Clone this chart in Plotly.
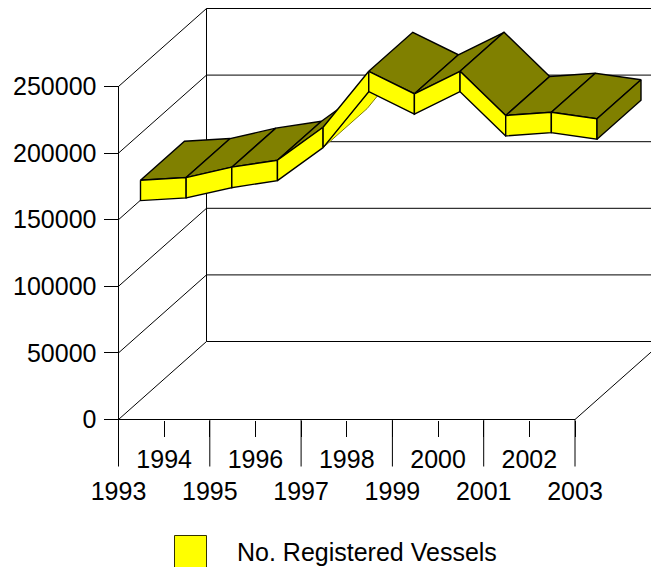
import plotly.graph_objects as go

# ---- data ----
years = [1993, 1994, 1995, 1996, 1997, 1998, 1999, 2000, 2001, 2002, 2003]
vessels = [165000, 167000, 174800, 180000, 204800, 246800, 229900, 246800, 213600, 216000, 211100]
y_ticks = [0, 50000, 100000, 150000, 200000, 250000]
series_name = "No. Registered Vessels"

# ---- oblique projection of the pseudo-3D box (axis units) ----
W, H = 651, 567
X0, Y0 = 118.5, 419.5       # pixel of first category at value 0
PX_CAT = 45.65              # pixels per category
PX_VAL = 66.6 / 50000       # pixels per unit of value
DX = 88 / PX_CAT            # full depth in category units
DY = 78 / PX_VAL            # full depth in value units
THICK = 20.4 / PX_VAL       # ribbon thickness
Z_FRONT, Z_BACK = 0.25, 0.75
N = len(years)
INK = "#000000"
FS = 25
FONT = "Liberation Sans"
RIBBON_W = 1.4


def proj(i, v, z=0.0):
    return i + z * DX, v + z * DY


def face(points, fill, line=INK, width=RIBBON_W):
    xs, ys = zip(*[proj(*p) for p in points + points[:1]])
    return go.Scatter(x=list(xs), y=list(ys), mode="lines", fill="toself", fillcolor=fill,
                      line=dict(color=line, width=width), hoverinfo="skip", showlegend=False)


def seg(p, q, width=1.0, color=INK):
    xs, ys = zip(*[proj(*a) for a in (p, q)])
    return go.Scatter(x=list(xs), y=list(ys), mode="lines", line=dict(color=color, width=width),
                      hoverinfo="skip", showlegend=False)


fig = go.Figure()

# walls
for v in y_ticks:
    fig.add_trace(seg((0, v, 0), (0, v, 1)))
    fig.add_trace(seg((0, v, 1), (N - 1, v, 1)))
fig.add_trace(seg((0, y_ticks[0], 1), (0, y_ticks[-1], 1)))
fig.add_trace(seg((0, 0), (N - 1, 0)))
fig.add_trace(seg((N - 1, 0, 0), (N - 1, 0, 1)))
# vertical axis and long category ticks
LONG_TICK = -47 / PX_VAL
fig.add_trace(seg((0, y_ticks[-1]), (0, LONG_TICK)))
for i in range(2, N, 2):
    fig.add_trace(seg((i, 0), (i, LONG_TICK)))

# ribbon, painted left to right
YELLOW, OLIVE = "#ffff00", "#808000"
for i in range(N - 1):
    a, b = vessels[i], vessels[i + 1]
    steep = (b - a) * PX_VAL / PX_CAT > 78 / 88
    if steep:
        fig.add_trace(face([(i, a - THICK, Z_FRONT), (i + 1, b - THICK, Z_FRONT),
                            (i + 1, b - THICK, Z_BACK), (i, a - THICK, Z_BACK)],
                           YELLOW, line=OLIVE, width=1.0))
    else:
        fig.add_trace(face([(i, a, Z_FRONT), (i + 1, b, Z_FRONT),
                            (i + 1, b, Z_BACK), (i, a, Z_BACK)], OLIVE))
    fig.add_trace(face([(i, a, Z_FRONT), (i + 1, b, Z_FRONT),
                        (i + 1, b - THICK, Z_FRONT), (i, a - THICK, Z_FRONT)], YELLOW))
last = vessels[-1]
fig.add_trace(face([(N - 1, last, Z_FRONT), (N - 1, last, Z_BACK),
                    (N - 1, last - THICK, Z_BACK), (N - 1, last - THICK, Z_FRONT)], OLIVE))

# legend key
fig.add_shape(type="rect", xref="paper", yref="paper",
              x0=174.5 / W, x1=206.5 / W, y0=1 - 567.5 / H, y1=1 - 535.5 / H,
              fillcolor=YELLOW, line=dict(color="#333300", width=1))
fig.add_annotation(text=series_name, xref="paper", yref="paper", x=235 / W, y=1 - 552 / H,
                   xanchor="left", yanchor="middle", showarrow=False,
                   font=dict(family=FONT, size=FS, color=INK))

tick_text = [str(y) if k % 2 else "<br>" + str(y) for k, y in enumerate(years)]
fig.update_layout(
    width=W, height=H, autosize=False, margin=dict(l=0, r=0, t=0, b=0),
    paper_bgcolor="white", plot_bgcolor="white", showlegend=False,
    font=dict(family=FONT, size=FS, color=INK),
    xaxis=dict(domain=[0, 1], range=[-X0 / PX_CAT, (W - X0) / PX_CAT], anchor="free",
               position=(H - Y0) / H, showgrid=False, zeroline=False, showline=False,
               tickmode="array", tickvals=list(range(N)), ticktext=tick_text,
               ticks="outside", ticklen=16, tickcolor=INK, tickwidth=1,
               ticklabelstandoff=1, tickangle=0),
    yaxis=dict(domain=[0, 1], range=[(Y0 - H) / PX_VAL, Y0 / PX_VAL], anchor="free",
               position=X0 / W, showgrid=False, zeroline=False, showline=False,
               tickmode="array", tickvals=y_ticks, ticktext=[str(v) for v in y_ticks],
               ticks="outside", ticklen=15, tickcolor=INK, tickwidth=1,
               ticklabelstandoff=2),
)
fig.write_html("out.html", config={"displayModeBar": False},
               post_script="document.body.style.margin='0';")
